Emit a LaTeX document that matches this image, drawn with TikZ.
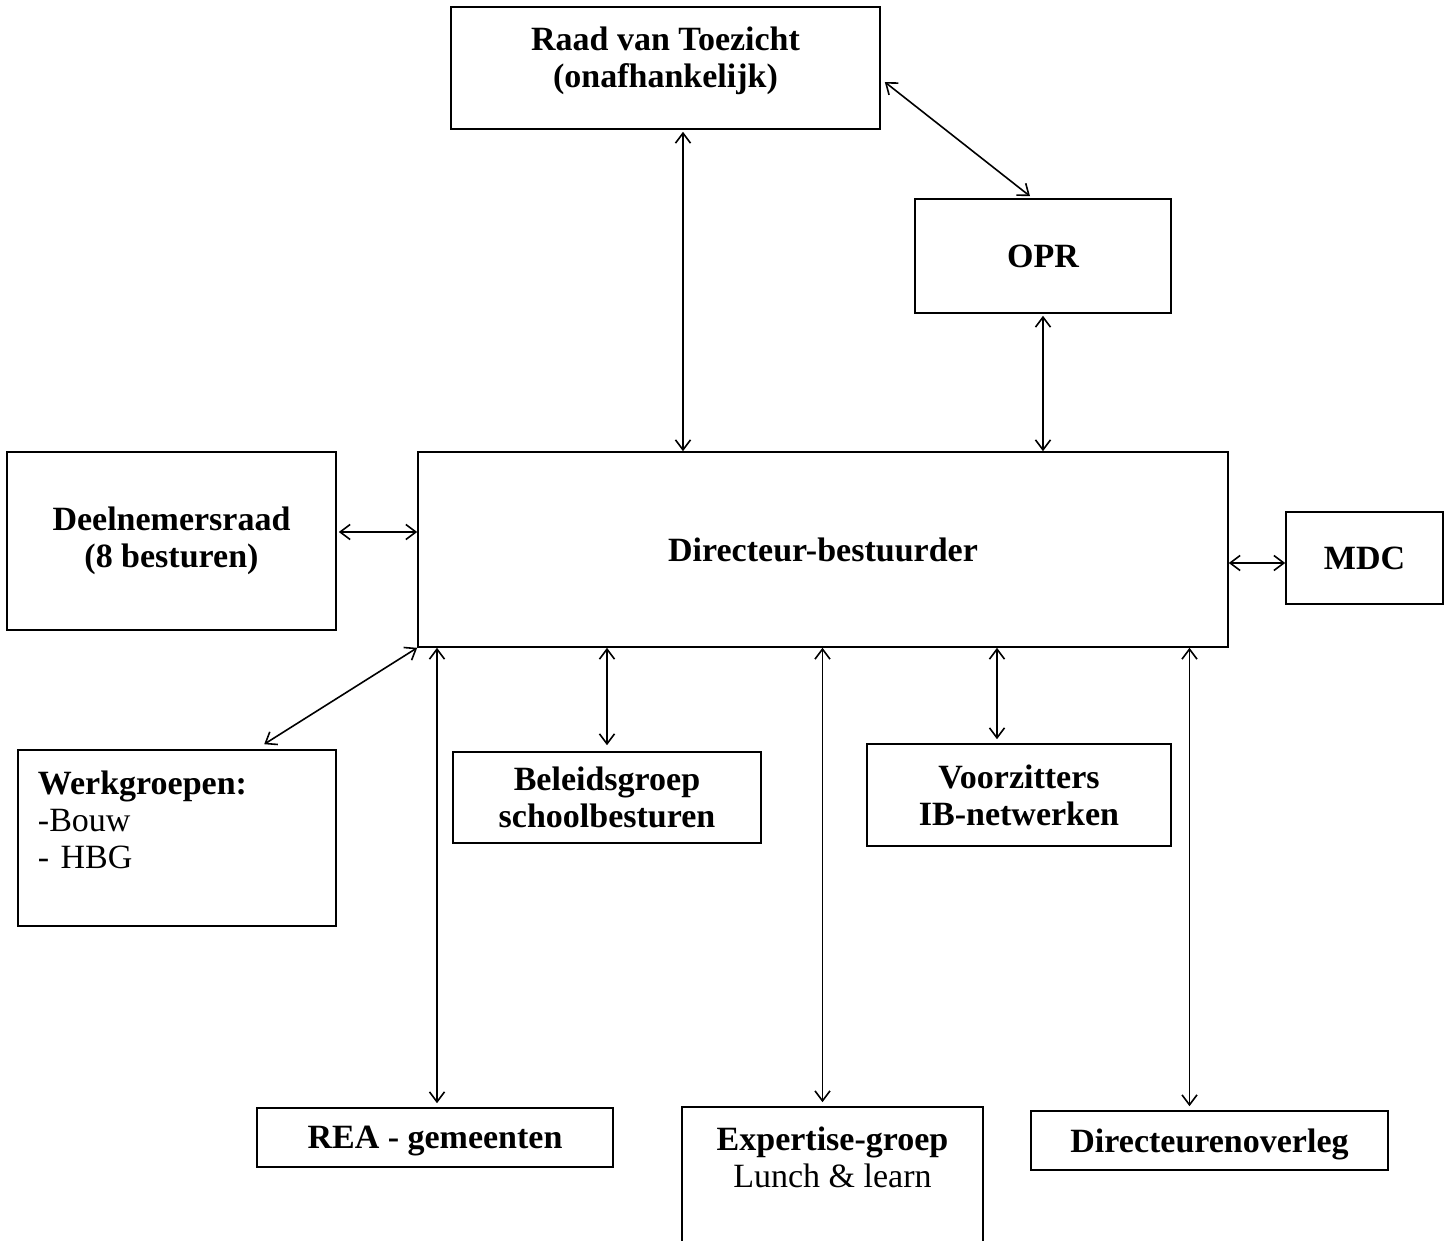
\documentclass[tikz,border=0pt]{standalone}
\usepackage{fontspec}
\setmainfont{Liberation Serif}
\usetikzlibrary{arrows.meta}

\newcommand{\orgfont}{\fontsize{17}{18.5}\selectfont}

\tikzset{
  box/.style={draw, line width=0.8pt, inner sep=0pt, align=center, font=\orgfont\bfseries},
  arr/.style={{Straight Barb[length=5pt,width=7.5pt]}-{Straight Barb[length=5pt,width=7.5pt]}, line width=0.8pt},
}

\begin{document}
\begin{tikzpicture}[x=0.5pt,y=-0.5pt]
    \useasboundingbox (0,0) rectangle (1452,1241);
    \clip (0,0) rectangle (1452,1241);

    % Top boxes
    \node[box, minimum width=214.5pt, minimum height=61pt, text depth=11pt] (rvt) at (665.5,68) {Raad van Toezicht\\(onafhankelijk)};
    \node[box, minimum width=128pt, minimum height=57pt] (opr) at (1043,256) {OPR};

    % Middle row
    \node[box, minimum width=405pt, minimum height=97.5pt] (dirb) at (823,549.5) {Directeur-bestuurder};
    \node[box, minimum width=164.5pt, minimum height=89pt] (dnr) at (171.5,541) {Deelnemersraad\\(8 besturen)};
    \node[box, minimum width=78.5pt, minimum height=46pt] (mdc) at (1364.5,558) {MDC};

    % Groups below
    \node[box, align=left, text width=139pt, inner xsep=10pt, minimum height=88pt, text depth=55pt] (werk) at (177,838) {Werkgroepen:\\\mdseries -Bouw\\\mdseries - HBG};
    \node[box, minimum width=154pt, minimum height=45.5pt] (beleid) at (607,797.5) {Beleidsgroep\\schoolbesturen};
    \node[box, minimum width=152pt, minimum height=51pt] (voorz) at (1019,795) {Voorzitters\\IB-netwerken};

    % Bottom row
    \node[box, minimum width=178pt, minimum height=29.5pt, text depth=0pt] (rea) at (435,1137.5) {REA - gemeenten};
    \node[box, minimum width=150.5pt, minimum height=90pt, text depth=40pt] (expert) at (832.5,1197) {Expertise-groep\\\mdseries Lunch \& learn};
    \node[box, minimum width=178.5pt, minimum height=29.5pt, text depth=0pt] (dirov) at (1209.5,1140.5) {Directeurenoverleg};

    % Arrows between the boxes
    \draw[arr] ([xshift=8.75pt,yshift=-1pt]rvt.south) -- ([xshift=-70pt]dirb.north);
    \draw[arr] ([shift={(2pt,-7pt)}]rvt.east) -- ([shift={(-6.5pt,1pt)}]opr.north);
    \draw[arr] ([yshift=-1pt]opr.south) -- (opr.south |- dirb.north);
    \draw[arr] ([shift={(1pt,4.5pt)}]dnr.east) -- ([yshift=8.75pt]dirb.west);
    \draw[arr] ([yshift=-6.75pt]dirb.east) -- ([yshift=-2.5pt]mdc.west);

    \draw[arr] (dirb.south west) -- ([shift={(123.5pt,2.5pt)}]werk.north west);
    \draw[arr, shorten >=2pt] ([xshift=1pt]rea.north |- dirb.south) -- ([xshift=1pt]rea.north);
    \draw[arr, shorten >=3pt] (beleid.north |- dirb.south) -- (beleid.north);
    \draw[arr, shorten >=2pt] ([xshift=-5pt]expert.north |- dirb.south) -- ([xshift=-5pt]expert.north);
    \draw[arr, shorten >=2pt] ([xshift=-11pt]voorz.north |- dirb.south) -- ([xshift=-11pt]voorz.north);
    \draw[arr, shorten >=2pt] ([xshift=-10pt]dirov.north |- dirb.south) -- ([xshift=-10pt]dirov.north);

\end{tikzpicture}
\end{document}
